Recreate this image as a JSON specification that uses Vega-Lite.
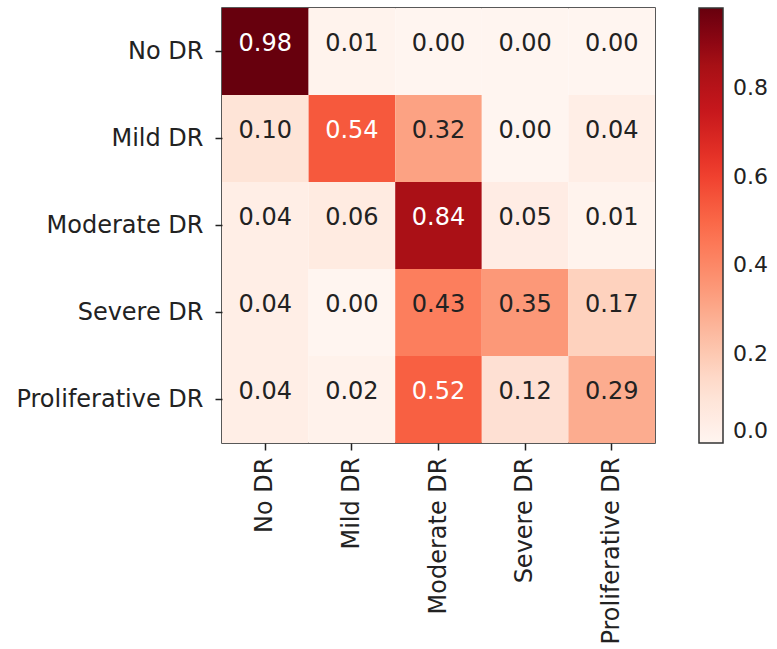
{
  "$schema": "https://vega.github.io/schema/vega-lite/v6.json",
  "autosize": {"type": "none"},
  "padding": {"left": 222, "top": 8, "right": 122, "bottom": 206},
  "width": 433,
  "height": 435,
  "background": "white",
  "config": {
    "view": {"stroke": "#222", "strokeWidth": 1.5},
    "font": "DejaVu Sans",
    "axis": {"labelFont": "DejaVu Sans", "labelFontSize": 24, "labelColor": "#222", "labelLimit": 0, "tickColor": "#222", "tickSize": 7, "tickWidth": 1.5, "labelPadding": 7, "domain": false, "grid": false, "title": null}
  },
  "data": {"values": [
    {"actual": "No DR", "pred": "No DR", "v": 0.98},
    {"actual": "No DR", "pred": "Mild DR", "v": 0.01},
    {"actual": "No DR", "pred": "Moderate DR", "v": 0.00},
    {"actual": "No DR", "pred": "Severe DR", "v": 0.00},
    {"actual": "No DR", "pred": "Proliferative DR", "v": 0.00},
    {"actual": "Mild DR", "pred": "No DR", "v": 0.10},
    {"actual": "Mild DR", "pred": "Mild DR", "v": 0.54},
    {"actual": "Mild DR", "pred": "Moderate DR", "v": 0.32},
    {"actual": "Mild DR", "pred": "Severe DR", "v": 0.00},
    {"actual": "Mild DR", "pred": "Proliferative DR", "v": 0.04},
    {"actual": "Moderate DR", "pred": "No DR", "v": 0.04},
    {"actual": "Moderate DR", "pred": "Mild DR", "v": 0.06},
    {"actual": "Moderate DR", "pred": "Moderate DR", "v": 0.84},
    {"actual": "Moderate DR", "pred": "Severe DR", "v": 0.05},
    {"actual": "Moderate DR", "pred": "Proliferative DR", "v": 0.01},
    {"actual": "Severe DR", "pred": "No DR", "v": 0.04},
    {"actual": "Severe DR", "pred": "Mild DR", "v": 0.00},
    {"actual": "Severe DR", "pred": "Moderate DR", "v": 0.43},
    {"actual": "Severe DR", "pred": "Severe DR", "v": 0.35},
    {"actual": "Severe DR", "pred": "Proliferative DR", "v": 0.17},
    {"actual": "Proliferative DR", "pred": "No DR", "v": 0.04},
    {"actual": "Proliferative DR", "pred": "Mild DR", "v": 0.02},
    {"actual": "Proliferative DR", "pred": "Moderate DR", "v": 0.52},
    {"actual": "Proliferative DR", "pred": "Severe DR", "v": 0.12},
    {"actual": "Proliferative DR", "pred": "Proliferative DR", "v": 0.29}
  ]},
  "encoding": {
    "x": {"field": "pred", "type": "nominal", "sort": ["No DR", "Mild DR", "Moderate DR", "Severe DR", "Proliferative DR"], "scale": {"paddingInner": 0, "paddingOuter": 0}, "axis": {"labelAngle": -90, "orient": "bottom"}},
    "y": {"field": "actual", "type": "nominal", "sort": ["No DR", "Mild DR", "Moderate DR", "Severe DR", "Proliferative DR"], "scale": {"paddingInner": 0, "paddingOuter": 0}, "axis": {"labelPadding": 12}}
  },
  "layer": [
    {
      "mark": {"type": "rect"},
      "encoding": {
        "color": {
          "field": "v", "type": "quantitative",
          "scale": {"type": "linear", "domain": [0, 0.1225, 0.245, 0.3675, 0.49, 0.6125, 0.735, 0.8575, 0.98], "range": ["#fff5f0", "#fee0d2", "#fcbba1", "#fc9272", "#fb6a4a", "#ef3b2c", "#cb181d", "#a50f15", "#67000d"]},
          "legend": {"orient": "none", "legendX": 477, "legendY": 0, "direction": "vertical", "title": null, "gradientLength": 435, "gradientThickness": 24, "gradientStrokeColor": "#333", "gradientStrokeWidth": 1.5, "values": [0, 0.2, 0.4, 0.6, 0.8], "format": ".1f", "labelFontSize": 22, "labelFont": "DejaVu Sans", "labelColor": "#222", "labelOffset": 10, "labelOverlap": false}
        }
      }
    },
    {
      "mark": {"type": "text", "fontSize": 24, "font": "DejaVu Sans", "dy": -8},
      "encoding": {
        "text": {"field": "v", "type": "quantitative", "format": ".2f"},
        "color": {"condition": {"test": "datum.v > 0.49", "value": "white"}, "value": "#222"}
      }
    }
  ]
}
